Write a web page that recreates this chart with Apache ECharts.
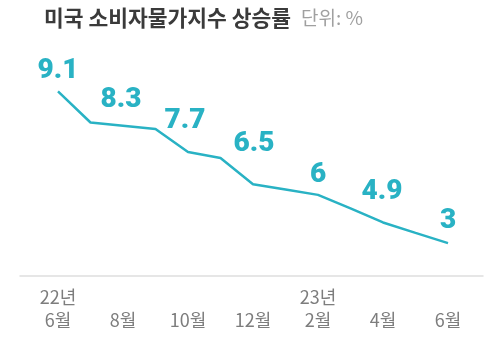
<!DOCTYPE html>
<html><head><meta charset="utf-8">
<script src="https://cdn.jsdelivr.net/npm/echarts@6/dist/echarts.min.js"></script>
<style>html,body{margin:0;padding:0;background:#fff}#c{width:500px;height:344px}</style>
</head><body><div id="c"></div>
<script>
// Months from Jun 2022 to Jun 2023
var months = ['6월','7월','8월','9월','10월','11월','12월','1월','2월','3월','4월','5월','6월'];
// Height of the drawn line at each month, in % units
var lineLevel = [9.1, 7.85, 7.72, 7.59, 6.66, 6.42, 5.37, 5.16, 4.94, 4.40, 3.83, 3.41, 3.0];
// Printed CPI values (shown at every other month)
var cpiLabels = ['9.1', null, '8.3', null, '7.7', null, '6.5', null, '6', null, '4.9', null, '3'];
// Year prefixes shown above some month labels
var yearTags = ['22년', '', '', '', '', '', '', '', '23년', '', '', '', ''];
var titleText = '미국 소비자물가지수 상승률';
var unitText = '단위: %';

// label nudges (style only)
var labelLift = [20, 26, 26, 26, 31, 30, 40, 39, 20, 19, 30, 29, 22];
var labelShift = [0, 0, -2, 0, -3, 0, 1, 0, 0, 0, -1, 0, 0];

var teal = '#29b2c4';
var lineData = lineLevel.map(function (v, i) {
  var item = { value: v };
  if (cpiLabels[i] !== null) {
    item.label = { show: true, formatter: cpiLabels[i], offset: [labelShift[i], -labelLift[i]] };
  }
  return item;
});

var chart = echarts.init(document.getElementById('c'), null, { renderer: 'canvas' });
chart.setOption({
  animation: false,
  backgroundColor: '#fff',
  title: {
    left: 39, top: 2,
    text: '{a|' + titleText + '}  {b|' + unitText + '}',
    textStyle: {
      rich: {
        a: { fontFamily: 'Noto Sans CJK KR', fontWeight: 'bold', fontSize: 21.5, color: '#3a3a3a' },
        b: { fontFamily: 'Noto Sans CJK KR', fontWeight: 'normal', fontSize: 19, color: '#a0a0a0' }
      }
    }
  },
  grid: [
    { left: 58, right: 52, top: 69, bottom: 76 },
    { left: 20, right: 17, top: 69, bottom: 68 }
  ],
  xAxis: [
    {
      type: 'category', gridIndex: 0, data: months, boundaryGap: false,
      axisLine: { show: false }, axisTick: { show: false },
      axisLabel: {
        interval: 1, margin: 18, lineHeight: 23,
        fontFamily: 'Noto Sans CJK KR', fontSize: 18, color: '#7d7d7d',
        formatter: function (val, idx) { return (yearTags[idx] || '') + '\n' + val; }
      }
    },
    {
      type: 'category', gridIndex: 1, data: [''],
      axisLine: { show: true, lineStyle: { color: '#dedede', width: 1.5 } },
      axisTick: { show: false }, axisLabel: { show: false }
    }
  ],
  yAxis: [
    { type: 'value', gridIndex: 0, min: 2, max: 10, show: false, splitLine: { show: false } },
    { type: 'value', gridIndex: 1, show: false, splitLine: { show: false } }
  ],
  series: [{
    type: 'line', xAxisIndex: 0, yAxisIndex: 0,
    data: lineData,
    symbol: 'circle', symbolSize: 0, showSymbol: true,
    lineStyle: { color: teal, width: 2.5 },
    itemStyle: { color: teal },
    label: {
      show: false, position: 'inside',
      fontFamily: 'Roboto', fontWeight: 900, fontSize: 28, color: teal
    }
  }]
});
</script></body></html>
